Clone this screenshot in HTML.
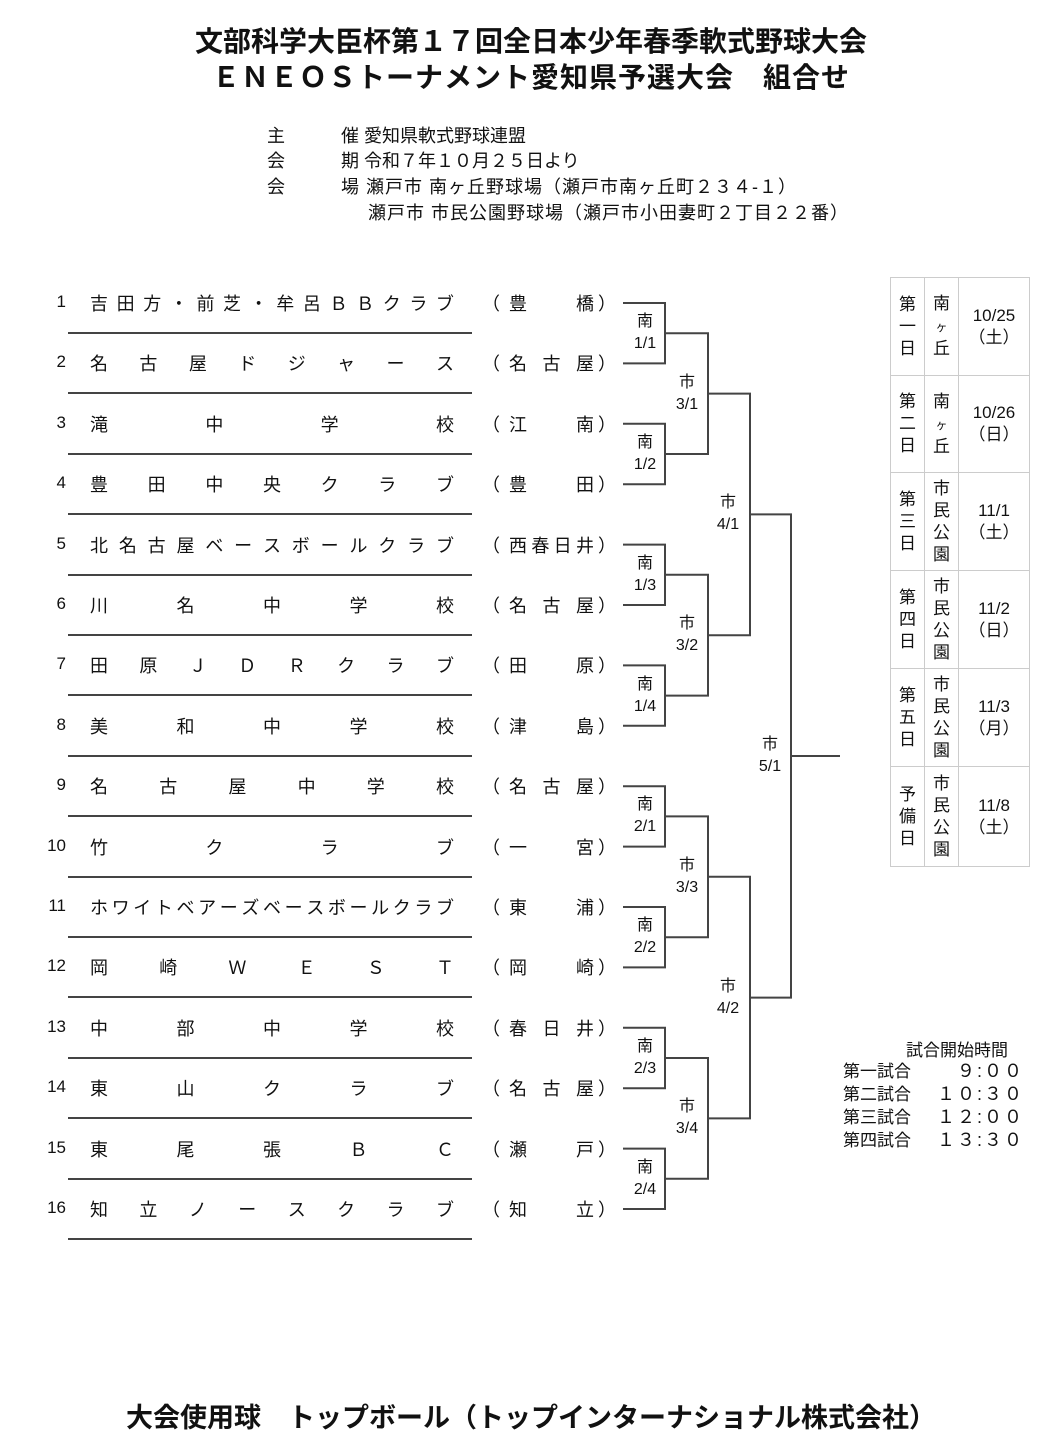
<!DOCTYPE html>
<html><head><meta charset="utf-8">
<style>
body{margin:0;width:1062px;height:1454px;background:#fff;position:relative;font-family:"Liberation Sans","Noto Sans CJK JP",sans-serif;color:#111;overflow:hidden}
.a{position:absolute;white-space:nowrap}
.t{font-size:28px;left:0;width:1062px;text-align:center;font-weight:bold}
.info{font-size:18px}
.num{position:absolute;width:30px;left:36px;text-align:right;font-size:17px}
.nm{position:absolute;left:90px;width:364px;display:flex;justify-content:space-between;font-size:18px}
.pl{position:absolute;left:482px;width:134px;display:flex;justify-content:space-between;font-size:18px}
.ln{position:absolute;left:68px;width:404px;height:2px;background:#444}
.lb{position:absolute;font-size:16px;text-align:center;line-height:22px;width:40px}
table{position:absolute;left:890px;top:277px;border-collapse:collapse;font-size:17px}
td{border:1.5px solid #ccc;text-align:center;vertical-align:middle;padding:0;line-height:22px}
</style></head><body>
<div class="a t" style="top:20px">文部科学大臣杯第１７回全日本少年春季軟式野球大会</div>
<div class="a t" style="top:56px;letter-spacing:1px">ＥＮＥＯＳトーナメント愛知県予選大会　組合せ</div>
<div class="a info" style="left:267px;top:122px">主</div><div class="a info" style="left:341px;top:122px">催 愛知県軟式野球連盟</div>
<div class="a info" style="left:267px;top:147px">会</div><div class="a info" style="left:341px;top:147px">期 令和７年１０月２５日より</div>
<div class="a info" style="left:267px;top:173px">会</div><div class="a info" style="left:341px;top:173px;letter-spacing:1px">場 瀬戸市 南ヶ丘野球場（瀬戸市南ヶ丘町２３４-１）</div>
<div class="a info" style="left:368px;top:199px;letter-spacing:1px">瀬戸市 市民公園野球場（瀬戸市小田妻町２丁目２２番）</div>

<div id="rows"></div>

<svg class="a" style="left:0;top:0" width="1062" height="1454">
<g fill="none" stroke="#444" stroke-width="2" id="br"></g>
</svg>

<table>
<tr style="height:98px"><td style="width:33px">第<br>一<br>日</td><td style="width:33px">南<br><span style="font-size:12px">ヶ</span><br>丘</td><td style="width:70px">10/25<br>（土）</td></tr>
<tr style="height:97px"><td>第<br>二<br>日</td><td>南<br><span style="font-size:12px">ヶ</span><br>丘</td><td>10/26<br>（日）</td></tr>
<tr style="height:98px"><td>第<br>三<br>日</td><td>市<br>民<br>公<br>園</td><td>11/1<br>（土）</td></tr>
<tr style="height:98px"><td>第<br>四<br>日</td><td>市<br>民<br>公<br>園</td><td>11/2<br>（日）</td></tr>
<tr style="height:98px"><td>第<br>五<br>日</td><td>市<br>民<br>公<br>園</td><td>11/3<br>（月）</td></tr>
<tr style="height:100px"><td>予<br>備<br>日</td><td>市<br>民<br>公<br>園</td><td>11/8<br>（土）</td></tr>
</table>

<div class="a" style="left:906px;top:1036px;font-size:17px">試合開始時間</div>
<div class="a" style="left:843px;top:1060px;font-size:17px;line-height:23px">第一試合<br>第二試合<br>第三試合<br>第四試合</div>
<div class="a" style="left:914px;top:1060px;font-size:18px;line-height:23px;width:110px;text-align:right;letter-spacing:2px">９:００<br>１０:３０<br>１２:００<br>１３:３０</div>

<div class="a" style="left:0;width:1062px;text-align:center;top:1396px;font-size:27px;font-weight:bold">大会使用球　トップボール（トップインターナショナル株式会社）</div>

<script>
var teams=[["吉田方・前芝・牟呂ＢＢクラブ","豊橋"],["名古屋ドジャース","名古屋"],["滝中学校","江南"],["豊田中央クラブ","豊田"],["北名古屋ベースボールクラブ","西春日井"],["川名中学校","名古屋"],["田原ＪＤＲクラブ","田原"],["美和中学校","津島"],["名古屋中学校","名古屋"],["竹クラブ","一宮"],["ホワイトベアーズベースボールクラブ","東浦"],["岡崎ＷＥＳＴ","岡崎"],["中部中学校","春日井"],["東山クラブ","名古屋"],["東尾張ＢＣ","瀬戸"],["知立ノースクラブ","知立"]];
var h="";
function Y(i){return 302+60.4*i;}
function sp(s){return s.split("").map(function(c){return "<span>"+c+"</span>"}).join("");}
teams.forEach(function(t,i){
 var y=Y(i);
 h+='<div class="num" style="top:'+(y-10)+'px">'+(i+1)+'</div>';
 h+='<div class="nm" style="top:'+(y-12)+'px">'+sp(t[0])+'</div>';
 h+='<div class="pl" style="top:'+(y-12)+'px"><span>（</span><span style="flex:1;display:flex;justify-content:space-between;margin:0 4px 0 9px">'+sp(t[1])+'</span><span>）</span></div>';
 h+='<div class="ln" style="top:'+(y+30)+'px"></div>';
});
var p="";
var xs=[623,665,708,750,791,840];
var labs=[["南","1/1","1/2","1/3","1/4","2/1","2/2","2/3","2/4"],["市","3/1","3/2","3/3","3/4"],["市","4/1","4/2"],["市","5/1"]];
var ys=[];for(var i=0;i<16;i++)ys.push(Y(i)+1);
for(var r=0;r<4;r++){
 var ny=[];
 for(var k=0;k<ys.length;k+=2){
  var a=ys[k],b=ys[k+1],m=(a+b)/2;
  p+='<path d="M'+xs[r]+' '+a+'H'+xs[r+1]+'V'+b+'H'+xs[r]+'"/>';
  ny.push(m);
  var lx=(r==0?645:[0,687,728,770][r])-20;
  h+='<div class="lb" style="left:'+lx+'px;top:'+(m-22)+'px">'+labs[r][0]+'<br>'+labs[r][k/2+1]+'</div>';
 }
 ys=ny;
}
p+='<path d="M'+xs[4]+' '+ys[0]+'H'+xs[5]+'"/>';
document.getElementById("rows").innerHTML=h;
document.getElementById("br").innerHTML=p;
</script>
</body></html>
